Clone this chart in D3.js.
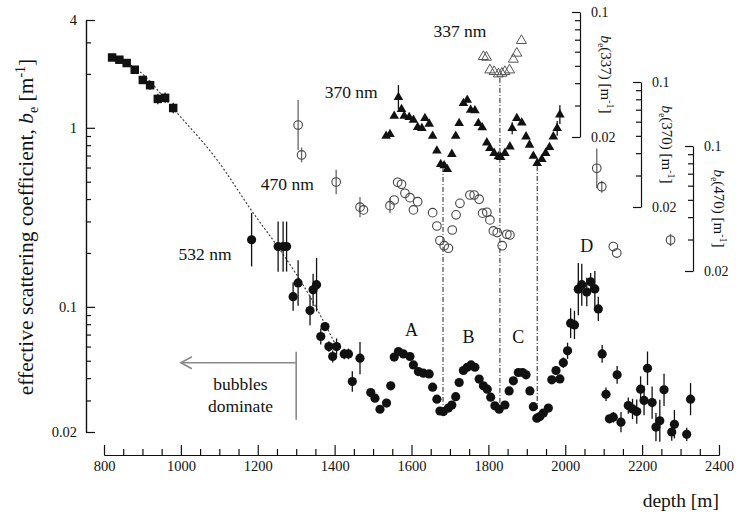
<!DOCTYPE html>
<html>
<head>
<meta charset="utf-8">
<script src="https://cdn.jsdelivr.net/npm/d3@7"></script>
<style>
  body { margin: 0; background: #fff; }
  #chart, #chart text { font-family: "Liberation Serif", Tinos, "Times New Roman", "DejaVu Serif", serif; }
  #chart text { fill: #111; }
</style>
</head>
<body>
<svg id="chart" width="736" height="515"></svg>
<script>
// ---- data: depth [m], effective scattering coefficient b_e [1/m], error factor (hi = v*f, lo = v/f)

// shallow measurements (squares)
const sqDepth = [821, 840, 859, 880, 901, 920, 940, 959, 980];
const sqValue = [2.47, 2.40, 2.30, 2.11, 1.85, 1.73, 1.45, 1.47, 1.29];
const sqErr   = [1, 1, 1, 1.05, 1.04, 1.06, 1.07, 1.07, 1.07];

// bubble-dominated fit (dotted)
const fitDepth = [821, 881, 990, 1094, 1188, 1258, 1336, 1405];
const fitValue = [2.49, 2.16, 1.21, 0.663, 0.335, 0.208, 0.114, 0.060];

// 532 nm (filled circles, left axis)
const d532 = [
  1184, 1253, 1266, 1275, 1292, 1305, 1336, 1344, 1353, 1364,
  1375, 1385, 1395, 1405, 1425, 1436, 1446, 1466, 1494, 1505,
  1518, 1535, 1546, 1555, 1566, 1579, 1596, 1605, 1618, 1631,
  1646, 1655, 1666, 1674, 1683, 1696, 1705, 1715, 1724, 1735,
  1745, 1755, 1765, 1776, 1787, 1797, 1806, 1817, 1828, 1843,
  1854, 1865, 1878, 1889, 1898, 1908, 1917, 1926, 1934, 1943,
  1956, 1965, 1976, 1986, 1995, 2006, 2014, 2024, 2034, 2043,
  2056, 2066, 2077, 2086, 2096, 2106, 2115, 2125, 2135, 2145,
  2164, 2175, 2186, 2196, 2205, 2214, 2226, 2236, 2246, 2257,
  2277, 2284, 2316, 2326];
const v532 = [
  0.237, 0.217, 0.217, 0.217, 0.114, 0.136, 0.0954, 0.1245, 0.133, 0.0683,
  0.0776, 0.060, 0.0528, 0.060, 0.0546, 0.0546, 0.0383, 0.0517, 0.0332, 0.0309,
  0.0268, 0.0290, 0.0362, 0.0524, 0.0563, 0.0546, 0.0528, 0.0474, 0.0435, 0.0426,
  0.0422, 0.0356, 0.0305, 0.0262, 0.0260, 0.0272, 0.0283, 0.0315, 0.0378, 0.0441,
  0.0460, 0.0474, 0.0460, 0.0395, 0.0362, 0.0347, 0.0313, 0.0280, 0.0268, 0.0283,
  0.0339, 0.0386, 0.0430, 0.0430, 0.0417, 0.0339, 0.0277, 0.0239, 0.0244, 0.0255,
  0.0272, 0.0391, 0.0441, 0.0396, 0.0488, 0.0568, 0.0811, 0.0793, 0.1256, 0.133,
  0.121, 0.138, 0.126, 0.0974, 0.0546, 0.0325, 0.0237, 0.0242, 0.0417, 0.0227,
  0.0281, 0.0269, 0.0260, 0.0347, 0.0300, 0.0454, 0.0292, 0.0213, 0.0231, 0.0344,
  0.0200, 0.0221, 0.0194, 0.0305];
const e532 = [
  1.41, 1.38, 1.38, 1.38, 1.2, 1.34, 1.21, 1.23, 1.41, 1.11,
  1.05, 1.07, 1.08, 1.11, 1.07, 1.07, 1.14, 1.23, 1.05, 1,
  1, 1, 1, 1, 1, 1, 1, 1, 1, 1,
  1, 1, 1, 1, 1, 1, 1, 1, 1, 1,
  1, 1, 1, 1, 1, 1, 1, 1, 1, 1,
  1, 1, 1, 1, 1, 1, 1, 1, 1, 1,
  1, 1, 1, 1, 1.07, 1.11, 1.21, 1.2, 1.4, 1.31,
  1.2, 1.12, 1.26, 1.17, 1.12, 1.09, 1.05, 1.07, 1.12, 1.14,
  1.11, 1.14, 1.17, 1.18, 1.21, 1.24, 1.23, 1.2, 1.31, 1.23,
  1.12, 1.2, 1.09, 1.23];

// 470 nm (open circles, b_e(470) axis)
const d470 = [
  1305, 1314, 1404, 1466, 1475, 1544, 1555, 1564, 1574, 1583,
  1596, 1605, 1616, 1655, 1666, 1674, 1685, 1696, 1706, 1716,
  1726, 1752, 1763, 1776, 1785, 1796, 1804, 1813, 1823, 1836,
  1848, 1856, 2082, 2095, 2125, 2134, 2274];
const v470 = [
  0.131, 0.0891, 0.0629, 0.0455, 0.0439, 0.0464, 0.0499, 0.0627, 0.0611, 0.0544,
  0.0514, 0.0439, 0.0488, 0.0424, 0.0357, 0.0296, 0.0277, 0.0268, 0.0339, 0.0412,
  0.0478, 0.0532, 0.0532, 0.0504, 0.0421, 0.0426, 0.0386, 0.0335, 0.0328, 0.0277,
  0.0321, 0.0318, 0.0751, 0.0592, 0.0274, 0.0252, 0.0298];
const e470 = [
  1.38, 1.1, 1.17, 1.14, 1, 1.1, 1, 1, 1, 1,
  1, 1, 1, 1, 1, 1, 1, 1, 1, 1,
  1, 1, 1, 1, 1, 1, 1, 1, 1, 1,
  1, 1, 1.29, 1.08, 1, 1, 1.08];

// 370 nm (filled triangles, b_e(370) axis)
const d370 = [
  1534, 1544, 1555, 1566, 1574, 1581, 1594, 1605, 1616, 1627,
  1635, 1646, 1655, 1666, 1676, 1685, 1693, 1705, 1715, 1724,
  1735, 1745, 1754, 1765, 1774, 1784, 1796, 1804, 1815, 1826,
  1832, 1843, 1856, 1862, 1874, 1887, 1898, 1907, 1917, 1927,
  1939, 1949, 1959, 1969, 1979, 1986];
const v370 = [
  0.0499, 0.0510, 0.0646, 0.0821, 0.0704, 0.0646, 0.0635, 0.0613, 0.0558, 0.0551,
  0.0627, 0.0583, 0.0499, 0.0413, 0.0347, 0.0341, 0.0325, 0.0395, 0.0499, 0.0588,
  0.0760, 0.0793, 0.0698, 0.0692, 0.0588, 0.0556, 0.0458, 0.0426, 0.0400, 0.0383,
  0.0380, 0.0400, 0.0435, 0.0551, 0.0627, 0.0592, 0.0495, 0.0445, 0.0386, 0.0351,
  0.0370, 0.0400, 0.0432, 0.0495, 0.0551, 0.0657];
const e370 = [
  1, 1, 1, 1.17, 1, 1, 1, 1, 1, 1,
  1, 1, 1, 1, 1, 1, 1, 1, 1, 1,
  1, 1, 1, 1, 1, 1, 1, 1, 1, 1,
  1, 1, 1, 1.08, 1, 1, 1, 1, 1, 1,
  1, 1, 1, 1, 1.1, 1.13];

// 337 nm (open triangles, b_e(337) axis)
const d337 = [1787, 1795, 1804, 1815, 1826, 1835, 1843, 1855, 1865, 1874, 1886];
const v337 = [0.0563, 0.0558, 0.0474, 0.0464, 0.0450, 0.0454, 0.0464, 0.0474, 0.0544, 0.0588, 0.0692];

// minima tied together across wavelengths: depth, top (value, axis), bottom value on 532 axis
const minDepth  = [1682, 1830, 1927];
const minTopVal = [0.0335, 0.0428, 0.0339];
const minTopAx  = ["370", "337", "370"];
const minBotVal = [0.0266, 0.0287, 0.0269];

// tick values
const xMajor = [800, 1000, 1200, 1400, 1600, 1800, 2000, 2200, 2400];
const xMinor = d3.range(850, 2400, 50).filter(d => d % 200 !== 0);
const yMajor = [0.02, 0.1, 1, 4];
const yMinor = [0.03, 0.04, 0.05, 0.06, 0.07, 0.08, 0.09, 0.2, 0.3, 0.4, 0.5, 0.6, 0.7, 0.8, 0.9, 2, 3];
const sMajor = [0.02, 0.1];
const sMinor = [0.03, 0.04, 0.05, 0.06, 0.07, 0.08, 0.09];

// ---- scales
const SERIF = '"Liberation Serif", Tinos, "Times New Roman", "DejaVu Serif", serif';
const svg = d3.select("#chart");
const x = d3.scaleLinear().domain([800, 2400]).range([104, 719]);
const y = d3.scaleLog().domain([0.02, 4]).range([432, 20]);
const y337 = d3.scaleLog().domain([0.02, 0.1]).range([137, 12]);
const y370 = d3.scaleLog().domain([0.02, 0.1]).range([207, 82]);
const y470 = d3.scaleLog().domain([0.02, 0.1]).range([271, 146]);
const yByName = { "337": y337, "370": y370, "470": y470, "532": y };

const fmt = d => String(d);

function styleAxis(g, fs) {
  g.attr("font-family", SERIF);
  g.selectAll("path.domain").attr("stroke", "#111").attr("stroke-width", 1.2);
  g.selectAll(".tick line").attr("stroke", "#111").attr("stroke-width", 1.2);
  g.selectAll(".tick text").style("font-size", fs + "px").style("font-family", SERIF).attr("fill", "#111");
}

// ---- main axes
const gx = svg.append("g").attr("transform", "translate(0,455)");
gx.call(d3.axisBottom(x).tickValues(xMajor).tickFormat(fmt).tickSizeInner(-10).tickSizeOuter(0).tickPadding(6));
gx.call(g => styleAxis(g, 14.5));
const gxm = svg.append("g").attr("transform", "translate(0,455)");
gxm.call(d3.axisBottom(x).tickValues(xMinor).tickFormat("").tickSizeInner(-6).tickSizeOuter(0));
gxm.call(g => styleAxis(g, 14.5));

const gy = svg.append("g").attr("transform", "translate(86,0)");
gy.call(d3.axisLeft(y).tickValues(yMajor).tickFormat(fmt).tickSizeInner(-9).tickSizeOuter(0).tickPadding(9));
gy.call(g => styleAxis(g, 14.5));
const gym = svg.append("g").attr("transform", "translate(86,0)");
gym.call(d3.axisLeft(y).tickValues(yMinor).tickFormat("").tickSizeInner(-5).tickSizeOuter(0));
gym.call(g => styleAxis(g, 14.5));

// axis titles
svg.append("text")
  .attr("text-anchor", "end")
  .attr("x", 719).attr("y", 507)
  .style("font-size", "19.5px")
  .text("depth [m]");

const yt = svg.append("text")
  .attr("transform", "translate(33,227) rotate(-90)")
  .attr("text-anchor", "middle")
  .style("font-size", "21.5px");
yt.append("tspan").text("effective scattering coefficient, ");
yt.append("tspan").style("font-style", "italic").text("b");
yt.append("tspan").attr("dy", 5).style("font-size", "14px").text("e");
yt.append("tspan").attr("dy", -5).text(" [m");
yt.append("tspan").attr("dy", -8).style("font-size", "14px").text("-1");
yt.append("tspan").attr("dy", 8).text("]");

// ---- secondary axes (one per wavelength)
const secAxes = [
  { name: "337", sx: 580, scale: y337 },
  { name: "370", sx: 641, scale: y370 },
  { name: "470", sx: 693, scale: y470 }
];
secAxes.forEach(a => {
  const g = svg.append("g").attr("transform", `translate(${a.sx},0)`);
  g.call(d3.axisRight(a.scale).tickValues(sMajor).tickFormat(fmt).tickSizeInner(-8).tickSizeOuter(0).tickPadding(11));
  styleAxis(g, 14);
  const gm = svg.append("g").attr("transform", `translate(${a.sx},0)`);
  gm.call(d3.axisRight(a.scale).tickValues(sMinor).tickFormat("").tickSizeInner(-5).tickSizeOuter(0));
  styleAxis(gm, 14);
  gm.select("path.domain").remove();

  const cy = (a.scale(0.1) + a.scale(0.02)) / 2;
  const t = svg.append("text")
    .attr("transform", `translate(${a.sx + 21},${cy}) rotate(90)`)
    .attr("text-anchor", "middle")
    .style("font-size", "15px");
  t.append("tspan").style("font-style", "italic").text("b");
  t.append("tspan").attr("dy", 3.5).style("font-size", "10px").text("e");
  t.append("tspan").attr("dy", -3.5).text(`(${a.name}) [m`);
  t.append("tspan").attr("dy", -6).style("font-size", "10px").text("-1");
  t.append("tspan").attr("dy", 6).text("]");
});

// ---- helpers
function rows(ds, vs, es) { return ds.map((d, i) => ({ d, v: vs[i], e: es ? es[i] : 1 })); }

function errorBars(data, sc, color, width) {
  svg.append("g").selectAll("line")
    .data(data.filter(p => p.e > 1))
    .join("line")
    .attr("x1", p => x(p.d)).attr("x2", p => x(p.d))
    .attr("y1", p => sc(p.v * p.e)).attr("y2", p => sc(p.v / p.e))
    .attr("stroke", color).attr("stroke-width", width);
}

// ---- tie lines between minima
svg.append("g").selectAll("line")
  .data(minDepth.map((d, i) => ({ d, top: yByName[minTopAx[i]](minTopVal[i]), bot: y(minBotVal[i]) })))
  .join("line")
  .attr("x1", p => x(p.d)).attr("x2", p => x(p.d))
  .attr("y1", p => p.top).attr("y2", p => p.bot)
  .attr("stroke", "#222").attr("stroke-width", 1)
  .attr("stroke-dasharray", "5,2,1,2");

// ---- dotted fit
svg.append("path")
  .datum(fitDepth.map((d, i) => ({ d, v: fitValue[i] })))
  .attr("fill", "none")
  .attr("stroke", "#333").attr("stroke-width", 1.1)
  .attr("stroke-dasharray", "2,2")
  .attr("d", d3.line().x(p => x(p.d)).y(p => y(p.v)).curve(d3.curveMonotoneX));

// ---- squares
const sq = rows(sqDepth, sqValue, sqErr);
errorBars(sq, y, "#111", 1.3);
svg.append("g").selectAll("path")
  .data(sq).join("path")
  .attr("transform", p => `translate(${x(p.d)},${y(p.v)})`)
  .attr("d", d3.symbol(d3.symbolSquare, 72))
  .attr("fill", "#111");

// ---- 532 nm
const s532 = rows(d532, v532, e532);
errorBars(s532, y, "#111", 1.3);
svg.append("g").selectAll("circle")
  .data(s532).join("circle")
  .attr("cx", p => x(p.d)).attr("cy", p => y(p.v)).attr("r", 4.6)
  .attr("fill", "#111");

// ---- 470 nm
const s470 = rows(d470, v470, e470);
errorBars(s470, y470, "#666", 1.3);
svg.append("g").selectAll("circle")
  .data(s470).join("circle")
  .attr("cx", p => x(p.d)).attr("cy", p => y470(p.v)).attr("r", 4.3)
  .attr("fill", "none").attr("stroke", "#444").attr("stroke-width", 1.1);

// ---- 370 nm
const s370 = rows(d370, v370, e370);
errorBars(s370, y370, "#111", 1.3);
svg.append("g").selectAll("path")
  .data(s370).join("path")
  .attr("transform", p => `translate(${x(p.d)},${y370(p.v)})`)
  .attr("d", d3.symbol(d3.symbolTriangle, 40))
  .attr("fill", "#111");

// ---- 337 nm
const s337 = rows(d337, v337, null);
svg.append("g").selectAll("path")
  .data(s337).join("path")
  .attr("transform", p => `translate(${x(p.d)},${y337(p.v)})`)
  .attr("d", d3.symbol(d3.symbolTriangle, 44))
  .attr("fill", "none").attr("stroke", "#555").attr("stroke-width", 1);

// ---- series labels and peak letters
const labels = [
  { t: "532 nm", d: 1063, v: 0.183, sc: y, fs: 17.5 },
  { t: "470 nm", d: 1277, v: 0.0568, sc: y470, fs: 17.5 },
  { t: "370 nm", d: 1443, v: 0.0814, sc: y370, fs: 17.5 },
  { t: "337 nm", d: 1726, v: 0.0725, sc: y337, fs: 17.5 },
  { t: "A", d: 1600, v: 0.0689, sc: y, fs: 18 },
  { t: "B", d: 1748, v: 0.0629, sc: y, fs: 18 },
  { t: "C", d: 1878, v: 0.0629, sc: y, fs: 18 },
  { t: "D", d: 2056, v: 0.203, sc: y, fs: 18 }
];
svg.append("g").selectAll("text")
  .data(labels).join("text")
  .attr("x", p => x(p.d)).attr("y", p => p.sc(p.v))
  .attr("text-anchor", "middle")
  .style("font-size", p => p.fs + "px")
  .text(p => p.t);

// ---- "bubbles dominate" marker
const bub = svg.append("g").attr("stroke", "#8a8a8a").attr("stroke-width", 1.6).attr("fill", "none");
bub.append("line")
  .attr("x1", x(1300)).attr("x2", x(1300))
  .attr("y1", y(0.0561)).attr("y2", y(0.0234));
bub.append("line")
  .attr("x1", x(1300)).attr("x2", x(1000))
  .attr("y1", y(0.0487)).attr("y2", y(0.0487));
bub.append("path")
  .attr("d", `M${x(1000) + 11},${y(0.0487) - 6}L${x(1000)},${y(0.0487)}L${x(1000) + 11},${y(0.0487) + 6}`);
svg.append("text")
  .attr("x", x(1155)).attr("y", y(0.0344))
  .attr("text-anchor", "middle").style("font-size", "17.5px")
  .text("bubbles");
svg.append("text")
  .attr("x", x(1155)).attr("y", y(0.0344) + 22)
  .attr("text-anchor", "middle").style("font-size", "17.5px")
  .text("dominate");
</script>
</body>
</html>
